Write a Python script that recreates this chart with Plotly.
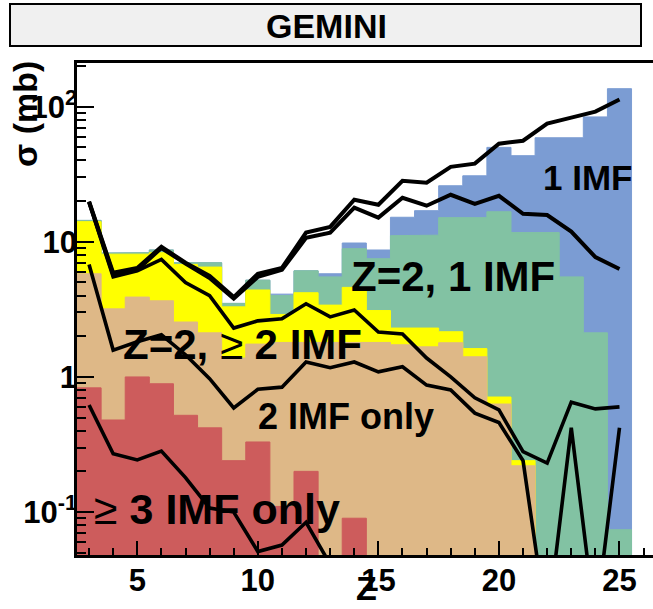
import numpy as np
import plotly.graph_objects as go

# Fragment charge Z (one bin per unit)
Z = list(range(3, 26))

# GEMINI cross sections per event class (mb), stacked bottom to top
imf3_only = [0.83, 0.48, 1.0, 0.89, 0.52, 0.42, 0.24, 0.33, 0.11, 0.20, 0.0, 0.09,
             0, 0, 0, 0, 0, 0, 0, 0, 0, 0, 0]
imf2_only = [4.97, 2.71, 2.9, 2.77, 2.03, 1.70, 1.14, 1.42, 1.69, 1.60, 1.80, 1.71,
             1.80, 1.73, 1.67, 1.79, 1.41, 0.63, 0.22, 0, 0, 0, 0]
z2_imf2 = [8.3, 4.91, 4.2, 4.64, 4.25, 4.38, 1.92, 2.65, 1.1, 2.4, 1.6, 2.8,
           1.3, 0.57, 0.63, 0.37, 0.21, 0.08, 0.02, 0, 0, 0, 0]
z2_imf1 = [0.3, 0.15, 0.2, 0.4, 0.2, 0.5, 0.2, 0.8, 1.1, 1.9, 2.1, 4.3,
           4.4, 8.8, 8.9, 12.94, 13.48, 15.99, 11.46, 11.7, 5.5, 2.12, 0.074]
imf1 = [0, 0, 0, 0, 0, 0, 0, 0, 0.1, 0, 0.3, 0.9,
        1.2, 4.1, 5.8, 10.9, 15.7, 33.3, 31.7, 47.2, 53.4, 81.9, 135.9]

# Cumulative levels of the comparison data (mb)
level_total = [19.8, 5.9, 6.4, 9.2, 7.0, 5.6, 3.9, 5.8, 6.4, 11.7, 12.9, 20.5,
               18.8, 28.3, 27.4, 35.9, 37.9, 53.2, 56, 75, 83, 92, 113]
level_z2_imf1 = [19.8, 5.7, 6.2, 9.0, 6.9, 5.4, 3.8, 5.5, 6.2, 10.7, 11.7, 17.9,
                 15.1, 21.2, 18.5, 22.3, 19.1, 21.9, 16.1, 15.8, 11.9, 7.7, 6.3]
level_z2_imf2 = [19.5, 5.5, 6.1, 7.4, 5.0, 4.0, 2.3, 2.6, 2.69, 3.48, 2.78, 3.13,
                 2.15, 2.08, 1.38, 1.0, 0.70, 0.57, 0.28, 0.23, 0.65, 0.58, 0.60]
level_imf2 = [6.8, 1.58, 1.82, 2.05, 1.46, 0.97, 0.59, 0.81, 0.84, 1.29, 1.17, 1.29,
              1.09, 1.19, 0.87, 0.80, 0.54, 0.46, 0.24, 0.014, 0.42, 0.015, 0.42]
level_imf3 = [0.62, 0.27, 0.243, 0.283, 0.18, 0.107, 0.10, 0.051, 0.057, 0.084, 0.041, None,
              None, None, None, None, None, None, None, None, None, None, None]

layer_names = ["≥3 IMF only", "2 IMF only", "Z=2, ≥2 IMF", "Z=2, 1 IMF", "1 IMF"]
layer_colors = ["#cd5c5c", "#deb887", "#ffff00", "#82c2a3", "#7b9cd3"]

W, H = 653, 609
L, R, T, B = 77, 0, 63, 54
FLOOR = 1e-3
FONT = "Liberation Sans, Arial, sans-serif"

z = np.array(Z, dtype=float)
lo, hi = z - 0.5, z + 0.5
stack = np.cumsum(np.array([imf3_only, imf2_only, z2_imf2, z2_imf1, imf1], float), axis=0)


def step_outline(top):
    top = np.maximum(np.asarray(top, float), FLOOR)
    xs = np.column_stack([lo, hi]).ravel()
    ys = np.repeat(top, 2)
    xs = np.concatenate([xs, [hi[-1], lo[0]]])
    ys = np.concatenate([ys, [FLOOR, FLOOR]])
    return xs, ys


fig = go.Figure()

# stacked histogram: draw the highest cumulative level first, then cover it
for k in range(len(layer_names) - 1, -1, -1):
    xs, ys = step_outline(stack[k])
    fig.add_trace(go.Scatter(
        x=xs, y=ys, mode="lines", fill="toself",
        fillcolor=layer_colors[k], line=dict(color=layer_colors[k], width=1),
        name=layer_names[k], hoverinfo="skip",
    ))

for vals, w in [(level_total, 4), (level_z2_imf1, 4), (level_z2_imf2, 3.6),
                (level_imf2, 3.6), (level_imf3, 3.6)]:
    fig.add_trace(go.Scatter(
        x=Z, y=vals, mode="lines", line=dict(color="black", width=w),
        connectgaps=False, hoverinfo="skip",
    ))

pw, ph = W - L - R, H - T - B


def px(xp):
    return (xp - L) / pw


def py(yp):
    return (H - B - yp) / ph


minor_vals = [m * 10.0 ** e for e in (-2, -1, 0, 1, 2) for m in range(2, 10)]

fig.update_layout(
    width=W, height=H,
    margin=dict(l=L, r=R, t=T, b=B),
    paper_bgcolor="white", plot_bgcolor="white",
    showlegend=False,
    font=dict(family=FONT, color="black"),
    xaxis=dict(
        range=[2.5, 26.39], showgrid=False, zeroline=False,
        showline=True, linecolor="black", linewidth=2.5, mirror=True,
        ticks="inside", ticklen=14, tickwidth=2, tickcolor="black",
        tickvals=[5, 10, 15, 20, 25],
        tickfont=dict(size=31, family=FONT, weight="bold"),
        ticklabelstandoff=-4,
        minor=dict(dtick=1, tick0=0, ticks="inside", ticklen=7, tickwidth=2, tickcolor="black"),
    ),
    yaxis=dict(
        type="log", range=[-1.318, 2.3235], showgrid=False, zeroline=False,
        showline=True, linecolor="black", linewidth=2.5, mirror=False,
        ticks="inside", ticklen=17, tickwidth=2, tickcolor="black",
        tickvals=[0.1, 1, 10, 100],
        ticktext=["10<sup>-1</sup>", "1", "10", "10<sup>2</sup>"],
        tickfont=dict(size=31, family=FONT, weight="bold"),
        ticklabelstandoff=-9,
        minor=dict(tickvals=minor_vals, ticks="inside", ticklen=9, tickwidth=2, tickcolor="black"),
    ),
)

# title box
fig.add_shape(type="rect", xref="paper", yref="paper",
              x0=px(10), x1=px(641), y0=py(46), y1=py(4),
              fillcolor="#f0f0f0", line=dict(color="black", width=2))

annots = [
    ("<b>GEMINI</b>", 326, 26, 34, 0),
    ("<b>σ (mb)</b>", 25, 114, 34, -90),
    ("<b>Z</b>", 366, 588, 34, 0),
    ("<b>1 IMF</b>", 587, 177, 35, 0),
    ("<b>Z=2, 1 IMF</b>", 453, 276, 42, 0),
    ("<b>Z=2, </b>≥<b> 2 IMF</b>", 242, 344, 42, 0),
    ("<b>2 IMF only</b>", 346, 416, 36, 0),
    ("≥<b> 3 IMF only</b>", 217, 509, 43, 0),
]
for text, x, y, size, ang in annots:
    fig.add_annotation(text=text, xref="paper", yref="paper", x=px(x), y=py(y),
                       xanchor="center", yanchor="middle", showarrow=False,
                       textangle=ang, font=dict(size=size, family=FONT, color="black"))

fig.write_html("out.html")
